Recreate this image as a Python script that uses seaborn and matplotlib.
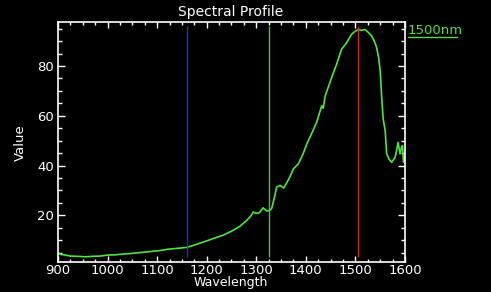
import matplotlib
matplotlib.use("Agg")
import matplotlib.pyplot as plt
from matplotlib.lines import Line2D
from matplotlib.ticker import MultipleLocator
import seaborn as sns
import pandas as pd

# ---- data ----
wavelength = [900, 905, 915, 925, 940, 955, 970, 985, 1000, 1015, 1030, 1045, 1060,
              1075, 1090, 1105, 1120, 1135, 1150, 1160, 1170, 1185, 1200, 1215, 1233,
              1250, 1267, 1280, 1290, 1294, 1300, 1306, 1314, 1318, 1321, 1327, 1331,
              1337, 1341, 1348, 1355, 1360, 1368, 1375, 1385, 1395, 1402, 1412, 1422,
              1432, 1435, 1439, 1452, 1462, 1472, 1482, 1492, 1500, 1506, 1512, 1519,
              1526, 1533, 1538, 1543, 1547, 1550, 1553, 1556, 1560, 1563, 1568, 1573,
              1580, 1583, 1586, 1590, 1593, 1595, 1597, 1600]
value = [4.9, 4.3, 4.0, 3.6, 3.5, 3.3, 3.5, 3.6, 4.0, 4.1, 4.4, 4.6, 4.9,
         5.2, 5.5, 5.8, 6.3, 6.6, 6.9, 7.1, 7.7, 8.7, 9.7, 10.8, 12.0,
         13.6, 15.6, 17.8, 20.0, 21.3, 20.8, 21.0, 23.0, 22.2, 21.7, 22.0, 22.7,
         27.5, 31.3, 32.0, 31.0, 32.5, 35.5, 38.7, 40.7, 45.0, 48.7, 53.0, 57.5,
         64.0, 63.0, 68.0, 75.3, 80.7, 86.7, 89.3, 92.7, 94.0, 94.7, 94.3, 94.7,
         93.5, 92.0, 90.0, 87.3, 83.0, 78.0, 67.3, 58.7, 54.0, 44.7, 42.5, 41.3,
         43.3, 46.0, 49.3, 44.7, 47.5, 48.0, 41.3, 44.0]
marker_nm = [1160, 1325, 1505]
marker_colors = ["#2a2ad0", "#40c840", "#c82828"]
x_ticks = [900, 1000, 1100, 1200, 1300, 1400, 1500, 1600]
y_ticks = [20, 40, 60, 80]
title = "Spectral Profile"
xlabel = "Wavelength"
ylabel = "Value"
legend_label = "1500nm"

df = pd.DataFrame({"Wavelength": wavelength, "Value": value})

sns.set_theme(style="dark")
plt.rcParams.update({
    "figure.facecolor": "black",
    "axes.facecolor": "black",
    "axes.edgecolor": "white",
    "text.color": "white",
    "xtick.color": "white",
    "ytick.color": "white",
    "axes.labelcolor": "white",
})
plt.rcParams["font.family"] = ["DejaVu Sans"]

W, H = 491, 292
fig = plt.figure(figsize=(W / 100, H / 100), dpi=100)
L, R, T, B = 58, 405, 21.7, 262.3
ax = fig.add_axes([L / W, (H - B) / H, (R - L) / W, (B - T) / H])

sns.lineplot(data=df, x="Wavelength", y="Value", ax=ax, color="#4ce63c",
             linewidth=1.2)
ax.vlines(marker_nm, min(value), max(value) + 1.5, colors=marker_colors, linewidth=1.0)

ax.set_xlim(900, 1600)
ax.set_ylim(1.1, 97.8)
ax.set_xticks(x_ticks)
ax.set_yticks(y_ticks)
ax.xaxis.set_minor_locator(MultipleLocator(25))
ax.yaxis.set_minor_locator(MultipleLocator(5))
ax.tick_params(which="both", direction="in", top=True, right=True,
               bottom=True, left=True, width=1.0, labelsize=9.5)
ax.tick_params(axis="x", which="both", pad=1.5)
ax.tick_params(axis="y", which="both", pad=3)
ax.tick_params(axis="x", which="major", length=4.5)
ax.tick_params(axis="x", which="minor", length=2.5)
ax.tick_params(axis="y", which="major", length=5.2)
ax.tick_params(axis="y", which="minor", length=3.2)
ax.grid(False)
for s in ax.spines.values():
    s.set_color("white")
    s.set_linewidth(1.2)
ax.set_xlabel("")
ax.set_ylabel("")

fig.text(231 / W, 1 - 12 / H, title, ha="center", va="center", fontsize=10, color="white")
fig.text(231 / W, 1 - 286 / H, xlabel, ha="center", va="baseline", fontsize=9, color="white")
fig.text(20 / W, 1 - 143 / H, ylabel, ha="center", va="center", rotation=90,
         fontsize=9.5, color="white")
fig.text(408 / W, 1 - 30.5 / H, legend_label, ha="left", va="center", fontsize=9.5,
         color="#5ad84a")
fig.add_artist(Line2D([408 / W, 457 / W], [1 - 37 / H, 1 - 37 / H],
                      transform=fig.transFigure, color="#5ad84a", linewidth=1.0))

fig.savefig("out.png", dpi=100, facecolor="black")
